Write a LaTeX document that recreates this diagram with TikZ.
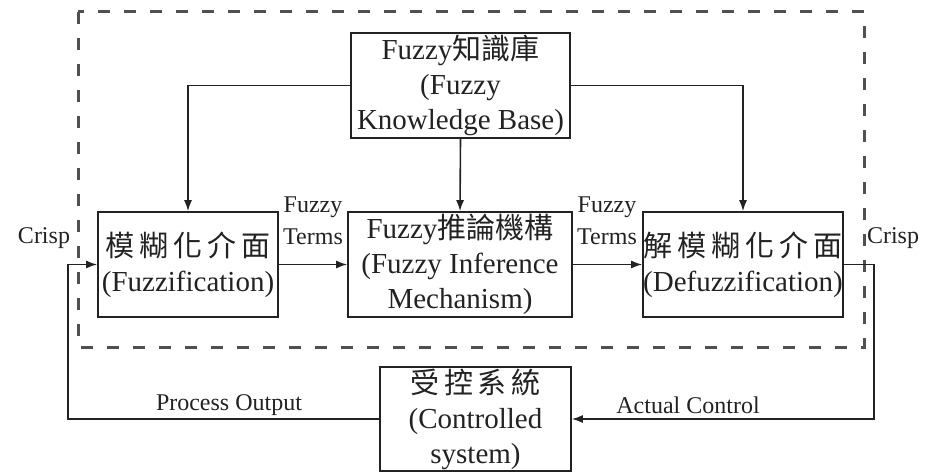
\documentclass[tikz,border=0pt]{standalone}
\usepackage{fontspec}
\setmainfont{Liberation Serif}
\newfontfamily\cjk{Noto Sans CJK TC}
\usetikzlibrary{arrows.meta}
\definecolor{ink}{HTML}{222222}
\definecolor{dashc}{HTML}{505050}
\tikzset{
  blk/.style={draw=ink, line width=1.6pt, text=ink, align=center, inner sep=0pt,
    font=\fontsize{29}{35}\selectfont},
  lbl/.style={text=ink, align=center, inner sep=0pt, font=\fontsize{24}{32}\selectfont},
  conn/.style={draw=ink, line width=1.6pt},
  arr/.style={conn, -{Latex[length=11pt,width=8pt]}},
}
\begin{document}
\begin{tikzpicture}[x=1pt,y=-1pt]
\useasboundingbox (0,0) rectangle (936,473);
\draw[dashc, line width=3pt, dash pattern=on 12pt off 14pt] (78,12) rectangle (864,347);
\node[blk, minimum width=219pt, minimum height=105pt] (kb) at (460.5,85.5)
  {Fuzzy{\cjk 知識庫}\\(Fuzzy\\Knowledge Base)};
\node[blk, minimum width=180pt, minimum height=105pt] (fuzz) at (188,264.5)
  {{\cjk 模\,糊\,化\,介\,面}\\(Fuzzification)};
\node[blk, minimum width=224pt, minimum height=105pt] (inf) at (460,264.5)
  {Fuzzy{\cjk 推論機構}\\(Fuzzy Inference\\Mechanism)};
\node[blk, minimum width=200pt, minimum height=105pt] (defuzz) at (743,264.5)
  {{\cjk 解\,模\,糊\,化\,介\,面}\\(Defuzzification)};
\node[blk, minimum width=191pt, minimum height=104pt] (ctrl) at (475.5,419)
  {{\cjk 受\,控\,系\,統}\\(Controlled\\system)};
\coordinate (rc) at (874,264.5);
\coordinate (lc) at (68,419);
\draw[arr] (kb.west) -| (fuzz.north);
\draw[arr] (kb.east) -| (defuzz.north);
\draw[arr] (kb.south) -- (inf.north);
\draw[arr] (fuzz.east) -- (inf.west);
\draw[arr] (inf.east) -- (defuzz.west);
\draw[arr] (defuzz.east) -- (rc) |- (ctrl.east);
\draw[arr] (ctrl.west) -- (lc) |- (fuzz.west);
\node[lbl] (ft1) at (313,221) {Fuzzy\\Terms};
\node[lbl] (ft2) at (607,221) {Fuzzy\\Terms};
\node[lbl] (cl) at (44,238) {Crisp};
\node[lbl] (cr) at (893,238) {Crisp};
\node[lbl] (po) at (229,405) {Process Output};
\node[lbl] (ac) at (688,405) {Actual Control};
\end{tikzpicture}
\end{document}
